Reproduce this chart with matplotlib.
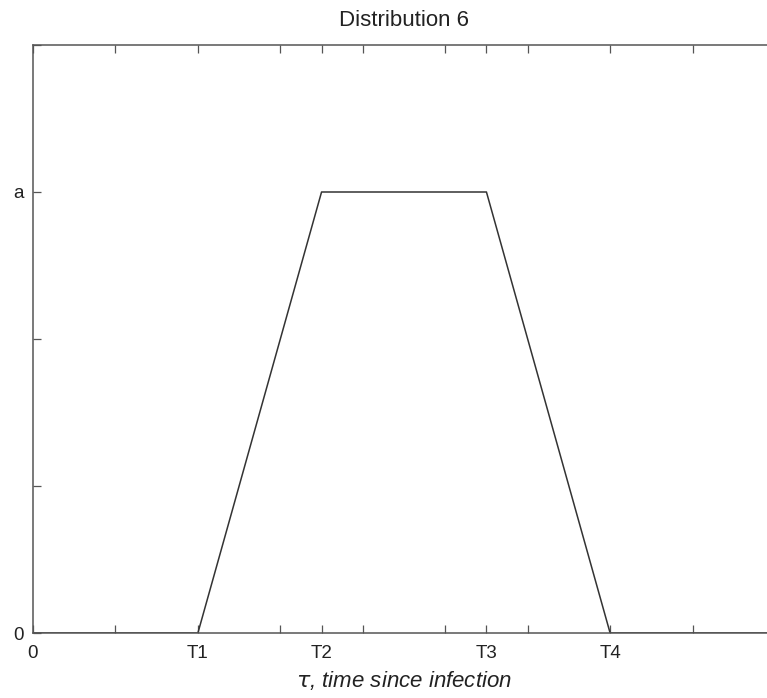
import matplotlib
matplotlib.use("Agg")
import matplotlib.pyplot as plt

# Trapezoidal infectivity profile over time since infection
tau = [0, 2, 3.5, 5.5, 7, 9]
level = [0, 0, 3, 3, 0, 0]

x_ticks = [0, 1, 2, 3, 3.5, 4, 5, 5.5, 6, 7, 8, 9]
x_tick_labels = ["0", "", "T1", "", "T2", "", "", "T3", "", "T4", "", ""]
y_ticks = [0, 1, 2, 3, 4]
y_tick_labels = ["0", "", "", "a", ""]

plt.rcParams["font.family"] = ["Liberation Sans", "DejaVu Sans"]

fig = plt.figure(figsize=(7.67, 6.98), dpi=100)
W, H = 767, 698
left, right, top, bottom = 33, 775, 45, 633
ax = fig.add_axes([left / W, 1 - bottom / H, (right - left) / W, (bottom - top) / H])

ax.plot(tau, level, color="#333333", lw=1.1)
ax.set_xlim(0, 9)
ax.set_ylim(0, 4)

ax.set_xticks(x_ticks)
ax.set_xticklabels(x_tick_labels)
ax.set_yticks(y_ticks)
ax.set_yticklabels(y_tick_labels)

ax.tick_params(direction="in", top=True, right=True, length=6, width=0.9,
               color="#555555", labelsize=13.5, labelcolor="#222222")
ax.tick_params(axis="x", pad=9)
ax.tick_params(axis="y", pad=7)
for s in ax.spines.values():
    s.set_color("#555555")
    s.set_linewidth(1.1)

ax.set_title("Distribution 6", fontsize=16, color="#222222", pad=14)
ax.set_xlabel(r"$\tau$, time since infection", fontsize=16, style="italic",
              color="#222222", labelpad=5)

fig.savefig("out.png", dpi=100)
